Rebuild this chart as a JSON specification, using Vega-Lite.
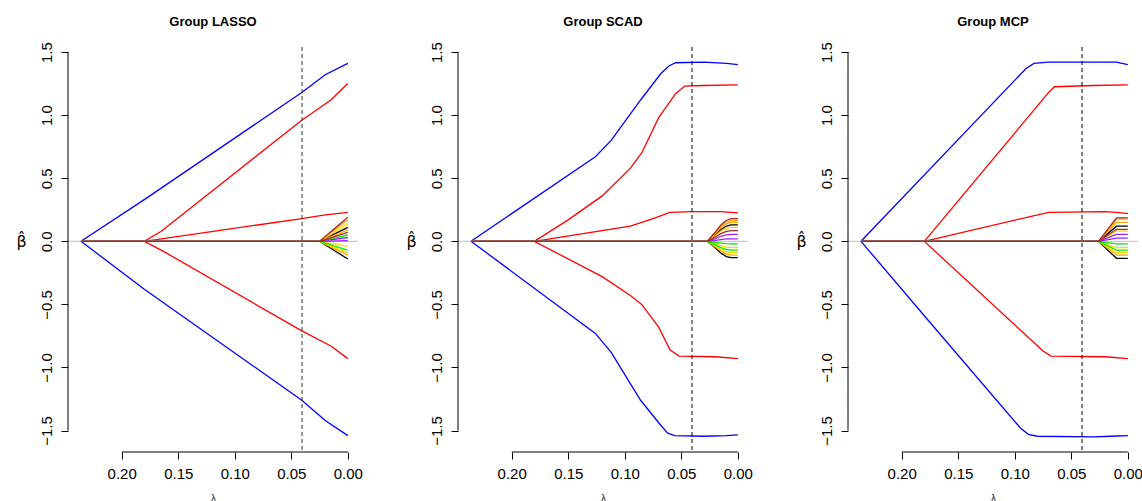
{
"$schema": "https://vega.github.io/schema/vega-lite/v6.json",
"autosize": {"type": "pad"},
"padding": {"left": 15, "top": 15, "right": 0, "bottom": 0},
"background": "white",
"spacing": 100,
"bounds": "flush",
"config": {
  "view": {"stroke": null},
  "axis": {"grid": false, "domain": false, "tickColor": "black", "labelColor": "black", "labelFont": "Liberation Sans", "labelFontSize": 15, "tickSize": 7, "tickWidth": 1, "titleFont": "Liberation Sans", "titleFontWeight": "normal", "titleColor": "black", "labelOverlap": false, "labelFlush": false},
  "title": {"font": "Liberation Sans", "fontSize": 13, "fontWeight": "bold", "color": "black", "frame": "group", "baseline": "alphabetic", "offset": 13, "anchor": "middle"}
},
"datasets": {
"paths": [
{"m":"LASSO","v":"B1","g":"blue","l":0.236,"b":0},{"m":"LASSO","v":"B1","g":"blue","l":0.18,"b":0.33},{"m":"LASSO","v":"B1","g":"blue","l":0.0407,"b":1.18},{"m":"LASSO","v":"B1","g":"blue","l":0.02,"b":1.32},{"m":"LASSO","v":"B1","g":"blue","l":0,"b":1.41},
{"m":"LASSO","v":"B2","g":"blue","l":0.236,"b":0},{"m":"LASSO","v":"B2","g":"blue","l":0.18,"b":-0.38},{"m":"LASSO","v":"B2","g":"blue","l":0.0407,"b":-1.26},{"m":"LASSO","v":"B2","g":"blue","l":0.02,"b":-1.42},{"m":"LASSO","v":"B2","g":"blue","l":0,"b":-1.54},
{"m":"LASSO","v":"R1","g":"red","l":0.236,"b":0},{"m":"LASSO","v":"R1","g":"red","l":0.18,"b":0},{"m":"LASSO","v":"R1","g":"red","l":0.165,"b":0.08},{"m":"LASSO","v":"R1","g":"red","l":0.0407,"b":0.96},{"m":"LASSO","v":"R1","g":"red","l":0.015,"b":1.12},{"m":"LASSO","v":"R1","g":"red","l":0,"b":1.25},
{"m":"LASSO","v":"R2","g":"red","l":0.236,"b":0},{"m":"LASSO","v":"R2","g":"red","l":0.18,"b":0},{"m":"LASSO","v":"R2","g":"red","l":0.0407,"b":0.18},{"m":"LASSO","v":"R2","g":"red","l":0.02,"b":0.21},{"m":"LASSO","v":"R2","g":"red","l":0,"b":0.23},
{"m":"LASSO","v":"R3","g":"red","l":0.236,"b":0},{"m":"LASSO","v":"R3","g":"red","l":0.18,"b":0},{"m":"LASSO","v":"R3","g":"red","l":0.165,"b":-0.07},{"m":"LASSO","v":"R3","g":"red","l":0.0407,"b":-0.71},{"m":"LASSO","v":"R3","g":"red","l":0.015,"b":-0.83},{"m":"LASSO","v":"R3","g":"red","l":0,"b":-0.93},
{"m":"LASSO","v":"K1","g":"black","l":0.236,"b":0},{"m":"LASSO","v":"K1","g":"black","l":0.025,"b":0},{"m":"LASSO","v":"K1","g":"black","l":0,"b":0.11},
{"m":"LASSO","v":"K2","g":"black","l":0.236,"b":0},{"m":"LASSO","v":"K2","g":"black","l":0.025,"b":0},{"m":"LASSO","v":"K2","g":"black","l":0,"b":-0.14},
{"m":"LASSO","v":"O1","g":"orange","l":0.236,"b":0},{"m":"LASSO","v":"O1","g":"orange","l":0.025,"b":0},{"m":"LASSO","v":"O1","g":"orange","l":0,"b":0.17},
{"m":"LASSO","v":"O2","g":"orange","l":0.236,"b":0},{"m":"LASSO","v":"O2","g":"orange","l":0.025,"b":0},{"m":"LASSO","v":"O2","g":"orange","l":0,"b":0.09},
{"m":"LASSO","v":"O3","g":"orange","l":0.236,"b":0},{"m":"LASSO","v":"O3","g":"orange","l":0.025,"b":0},{"m":"LASSO","v":"O3","g":"orange","l":0,"b":-0.11},
{"m":"LASSO","v":"Y1","g":"gold","l":0.236,"b":0},{"m":"LASSO","v":"Y1","g":"gold","l":0.025,"b":0},{"m":"LASSO","v":"Y1","g":"gold","l":0,"b":0.14},
{"m":"LASSO","v":"Y2","g":"gold","l":0.236,"b":0},{"m":"LASSO","v":"Y2","g":"gold","l":0.025,"b":0},{"m":"LASSO","v":"Y2","g":"gold","l":0,"b":-0.04},
{"m":"LASSO","v":"Y3","g":"gold","l":0.236,"b":0},{"m":"LASSO","v":"Y3","g":"gold","l":0.025,"b":0},{"m":"LASSO","v":"Y3","g":"gold","l":0,"b":-0.09},
{"m":"LASSO","v":"G1","g":"green","l":0.236,"b":0},{"m":"LASSO","v":"G1","g":"green","l":0.025,"b":0},{"m":"LASSO","v":"G1","g":"green","l":0,"b":0.05},
{"m":"LASSO","v":"G2","g":"green","l":0.236,"b":0},{"m":"LASSO","v":"G2","g":"green","l":0.025,"b":0},{"m":"LASSO","v":"G2","g":"green","l":0,"b":-0.07},
{"m":"LASSO","v":"P1","g":"purple","l":0.236,"b":0},{"m":"LASSO","v":"P1","g":"purple","l":0.025,"b":0},{"m":"LASSO","v":"P1","g":"purple","l":0,"b":0.03},
{"m":"LASSO","v":"P2","g":"purple","l":0.236,"b":0},{"m":"LASSO","v":"P2","g":"purple","l":0.025,"b":0},{"m":"LASSO","v":"P2","g":"purple","l":0,"b":0.005},
{"m":"LASSO","v":"N1","g":"brown","l":0.236,"b":0},{"m":"LASSO","v":"N1","g":"brown","l":0.025,"b":0},{"m":"LASSO","v":"N1","g":"brown","l":0,"b":0.19},
{"m":"LASSO","v":"N2","g":"brown","l":0.236,"b":0},{"m":"LASSO","v":"N2","g":"brown","l":0.025,"b":0},{"m":"LASSO","v":"N2","g":"brown","l":0,"b":0.07},

{"m":"SCAD","v":"B1","g":"blue","l":0.236,"b":0},{"m":"SCAD","v":"B1","g":"blue","l":0.126,"b":0.67},{"m":"SCAD","v":"B1","g":"blue","l":0.112,"b":0.8},{"m":"SCAD","v":"B1","g":"blue","l":0.086,"b":1.12},{"m":"SCAD","v":"B1","g":"blue","l":0.068,"b":1.33},{"m":"SCAD","v":"B1","g":"blue","l":0.061,"b":1.39},{"m":"SCAD","v":"B1","g":"blue","l":0.055,"b":1.415},{"m":"SCAD","v":"B1","g":"blue","l":0.03,"b":1.42},{"m":"SCAD","v":"B1","g":"blue","l":0.01,"b":1.41},{"m":"SCAD","v":"B1","g":"blue","l":0,"b":1.4},
{"m":"SCAD","v":"B2","g":"blue","l":0.236,"b":0},{"m":"SCAD","v":"B2","g":"blue","l":0.126,"b":-0.73},{"m":"SCAD","v":"B2","g":"blue","l":0.112,"b":-0.88},{"m":"SCAD","v":"B2","g":"blue","l":0.086,"b":-1.26},{"m":"SCAD","v":"B2","g":"blue","l":0.068,"b":-1.46},{"m":"SCAD","v":"B2","g":"blue","l":0.062,"b":-1.52},{"m":"SCAD","v":"B2","g":"blue","l":0.056,"b":-1.54},{"m":"SCAD","v":"B2","g":"blue","l":0.03,"b":-1.545},{"m":"SCAD","v":"B2","g":"blue","l":0.01,"b":-1.54},{"m":"SCAD","v":"B2","g":"blue","l":0,"b":-1.535},
{"m":"SCAD","v":"R1","g":"red","l":0.236,"b":0},{"m":"SCAD","v":"R1","g":"red","l":0.18,"b":0},{"m":"SCAD","v":"R1","g":"red","l":0.15,"b":0.17},{"m":"SCAD","v":"R1","g":"red","l":0.12,"b":0.36},{"m":"SCAD","v":"R1","g":"red","l":0.095,"b":0.58},{"m":"SCAD","v":"R1","g":"red","l":0.085,"b":0.7},{"m":"SCAD","v":"R1","g":"red","l":0.07,"b":0.98},{"m":"SCAD","v":"R1","g":"red","l":0.055,"b":1.17},{"m":"SCAD","v":"R1","g":"red","l":0.047,"b":1.23},{"m":"SCAD","v":"R1","g":"red","l":0.03,"b":1.235},{"m":"SCAD","v":"R1","g":"red","l":0,"b":1.24},
{"m":"SCAD","v":"R2","g":"red","l":0.236,"b":0},{"m":"SCAD","v":"R2","g":"red","l":0.18,"b":0},{"m":"SCAD","v":"R2","g":"red","l":0.095,"b":0.12},{"m":"SCAD","v":"R2","g":"red","l":0.075,"b":0.18},{"m":"SCAD","v":"R2","g":"red","l":0.06,"b":0.23},{"m":"SCAD","v":"R2","g":"red","l":0.04,"b":0.235},{"m":"SCAD","v":"R2","g":"red","l":0.015,"b":0.235},{"m":"SCAD","v":"R2","g":"red","l":0,"b":0.225},
{"m":"SCAD","v":"R3","g":"red","l":0.236,"b":0},{"m":"SCAD","v":"R3","g":"red","l":0.18,"b":0},{"m":"SCAD","v":"R3","g":"red","l":0.12,"b":-0.28},{"m":"SCAD","v":"R3","g":"red","l":0.095,"b":-0.43},{"m":"SCAD","v":"R3","g":"red","l":0.085,"b":-0.5},{"m":"SCAD","v":"R3","g":"red","l":0.07,"b":-0.68},{"m":"SCAD","v":"R3","g":"red","l":0.06,"b":-0.86},{"m":"SCAD","v":"R3","g":"red","l":0.052,"b":-0.91},{"m":"SCAD","v":"R3","g":"red","l":0.02,"b":-0.915},{"m":"SCAD","v":"R3","g":"red","l":0,"b":-0.93},
{"m":"SCAD","v":"K1","g":"black","l":0.236,"b":0},{"m":"SCAD","v":"K1","g":"black","l":0.027,"b":0},{"m":"SCAD","v":"K1","g":"black","l":0.02,"b":0.052},{"m":"SCAD","v":"K1","g":"black","l":0.015,"b":0.094},{"m":"SCAD","v":"K1","g":"black","l":0.01,"b":0.121},{"m":"SCAD","v":"K1","g":"black","l":0.006,"b":0.13},{"m":"SCAD","v":"K1","g":"black","l":0,"b":0.13},
{"m":"SCAD","v":"K2","g":"black","l":0.236,"b":0},{"m":"SCAD","v":"K2","g":"black","l":0.027,"b":0},{"m":"SCAD","v":"K2","g":"black","l":0.02,"b":-0.052},{"m":"SCAD","v":"K2","g":"black","l":0.015,"b":-0.094},{"m":"SCAD","v":"K2","g":"black","l":0.01,"b":-0.121},{"m":"SCAD","v":"K2","g":"black","l":0.006,"b":-0.13},{"m":"SCAD","v":"K2","g":"black","l":0,"b":-0.13},
{"m":"SCAD","v":"O1","g":"orange","l":0.236,"b":0},{"m":"SCAD","v":"O1","g":"orange","l":0.027,"b":0},{"m":"SCAD","v":"O1","g":"orange","l":0.02,"b":0.066},{"m":"SCAD","v":"O1","g":"orange","l":0.015,"b":0.119},{"m":"SCAD","v":"O1","g":"orange","l":0.01,"b":0.153},{"m":"SCAD","v":"O1","g":"orange","l":0.006,"b":0.165},{"m":"SCAD","v":"O1","g":"orange","l":0,"b":0.165},
{"m":"SCAD","v":"O2","g":"orange","l":0.236,"b":0},{"m":"SCAD","v":"O2","g":"orange","l":0.027,"b":0},{"m":"SCAD","v":"O2","g":"orange","l":0.02,"b":0.06},{"m":"SCAD","v":"O2","g":"orange","l":0.015,"b":0.108},{"m":"SCAD","v":"O2","g":"orange","l":0.01,"b":0.14},{"m":"SCAD","v":"O2","g":"orange","l":0.006,"b":0.15},{"m":"SCAD","v":"O2","g":"orange","l":0,"b":0.15},
{"m":"SCAD","v":"O3","g":"orange","l":0.236,"b":0},{"m":"SCAD","v":"O3","g":"orange","l":0.027,"b":0},{"m":"SCAD","v":"O3","g":"orange","l":0.02,"b":-0.044},{"m":"SCAD","v":"O3","g":"orange","l":0.015,"b":-0.079},{"m":"SCAD","v":"O3","g":"orange","l":0.01,"b":-0.102},{"m":"SCAD","v":"O3","g":"orange","l":0.006,"b":-0.11},{"m":"SCAD","v":"O3","g":"orange","l":0,"b":-0.11},
{"m":"SCAD","v":"Y1","g":"gold","l":0.236,"b":0},{"m":"SCAD","v":"Y1","g":"gold","l":0.027,"b":0},{"m":"SCAD","v":"Y1","g":"gold","l":0.02,"b":0.044},{"m":"SCAD","v":"Y1","g":"gold","l":0.015,"b":0.079},{"m":"SCAD","v":"Y1","g":"gold","l":0.01,"b":0.102},{"m":"SCAD","v":"Y1","g":"gold","l":0.006,"b":0.11},{"m":"SCAD","v":"Y1","g":"gold","l":0,"b":0.11},
{"m":"SCAD","v":"Y2","g":"gold","l":0.236,"b":0},{"m":"SCAD","v":"Y2","g":"gold","l":0.027,"b":0},{"m":"SCAD","v":"Y2","g":"gold","l":0.02,"b":-0.02},{"m":"SCAD","v":"Y2","g":"gold","l":0.015,"b":-0.036},{"m":"SCAD","v":"Y2","g":"gold","l":0.01,"b":-0.047},{"m":"SCAD","v":"Y2","g":"gold","l":0.006,"b":-0.05},{"m":"SCAD","v":"Y2","g":"gold","l":0,"b":-0.05},
{"m":"SCAD","v":"Y3","g":"gold","l":0.236,"b":0},{"m":"SCAD","v":"Y3","g":"gold","l":0.027,"b":0},{"m":"SCAD","v":"Y3","g":"gold","l":0.02,"b":-0.036},{"m":"SCAD","v":"Y3","g":"gold","l":0.015,"b":-0.065},{"m":"SCAD","v":"Y3","g":"gold","l":0.01,"b":-0.084},{"m":"SCAD","v":"Y3","g":"gold","l":0.006,"b":-0.09},{"m":"SCAD","v":"Y3","g":"gold","l":0,"b":-0.09},
{"m":"SCAD","v":"G1","g":"green","l":0.236,"b":0},{"m":"SCAD","v":"G1","g":"green","l":0.027,"b":0},{"m":"SCAD","v":"G1","g":"green","l":0.02,"b":-0.008},{"m":"SCAD","v":"G1","g":"green","l":0.015,"b":-0.014},{"m":"SCAD","v":"G1","g":"green","l":0.01,"b":-0.019},{"m":"SCAD","v":"G1","g":"green","l":0.006,"b":-0.02},{"m":"SCAD","v":"G1","g":"green","l":0,"b":-0.02},
{"m":"SCAD","v":"G2","g":"green","l":0.236,"b":0},{"m":"SCAD","v":"G2","g":"green","l":0.027,"b":0},{"m":"SCAD","v":"G2","g":"green","l":0.02,"b":-0.028},{"m":"SCAD","v":"G2","g":"green","l":0.015,"b":-0.05},{"m":"SCAD","v":"G2","g":"green","l":0.01,"b":-0.065},{"m":"SCAD","v":"G2","g":"green","l":0.006,"b":-0.07},{"m":"SCAD","v":"G2","g":"green","l":0,"b":-0.07},
{"m":"SCAD","v":"P1","g":"purple","l":0.236,"b":0},{"m":"SCAD","v":"P1","g":"purple","l":0.027,"b":0},{"m":"SCAD","v":"P1","g":"purple","l":0.02,"b":0.022},{"m":"SCAD","v":"P1","g":"purple","l":0.015,"b":0.04},{"m":"SCAD","v":"P1","g":"purple","l":0.01,"b":0.051},{"m":"SCAD","v":"P1","g":"purple","l":0.006,"b":0.055},{"m":"SCAD","v":"P1","g":"purple","l":0,"b":0.055},
{"m":"SCAD","v":"P2","g":"purple","l":0.236,"b":0},{"m":"SCAD","v":"P2","g":"purple","l":0.027,"b":0},{"m":"SCAD","v":"P2","g":"purple","l":0.02,"b":0.008},{"m":"SCAD","v":"P2","g":"purple","l":0.015,"b":0.014},{"m":"SCAD","v":"P2","g":"purple","l":0.01,"b":0.019},{"m":"SCAD","v":"P2","g":"purple","l":0.006,"b":0.02},{"m":"SCAD","v":"P2","g":"purple","l":0,"b":0.02},
{"m":"SCAD","v":"N1","g":"brown","l":0.236,"b":0},{"m":"SCAD","v":"N1","g":"brown","l":0.027,"b":0},{"m":"SCAD","v":"N1","g":"brown","l":0.02,"b":0.072},{"m":"SCAD","v":"N1","g":"brown","l":0.015,"b":0.13},{"m":"SCAD","v":"N1","g":"brown","l":0.01,"b":0.167},{"m":"SCAD","v":"N1","g":"brown","l":0.006,"b":0.18},{"m":"SCAD","v":"N1","g":"brown","l":0,"b":0.18},
{"m":"SCAD","v":"N2","g":"brown","l":0.236,"b":0},{"m":"SCAD","v":"N2","g":"brown","l":0.027,"b":0},{"m":"SCAD","v":"N2","g":"brown","l":0.02,"b":0.034},{"m":"SCAD","v":"N2","g":"brown","l":0.015,"b":0.061},{"m":"SCAD","v":"N2","g":"brown","l":0.01,"b":0.079},{"m":"SCAD","v":"N2","g":"brown","l":0.006,"b":0.085},{"m":"SCAD","v":"N2","g":"brown","l":0,"b":0.085},

{"m":"MCP","v":"B1","g":"blue","l":0.236,"b":0},{"m":"MCP","v":"B1","g":"blue","l":0.09,"b":1.37},{"m":"MCP","v":"B1","g":"blue","l":0.083,"b":1.41},{"m":"MCP","v":"B1","g":"blue","l":0.07,"b":1.42},{"m":"MCP","v":"B1","g":"blue","l":0.03,"b":1.42},{"m":"MCP","v":"B1","g":"blue","l":0.01,"b":1.42},{"m":"MCP","v":"B1","g":"blue","l":0,"b":1.4},
{"m":"MCP","v":"B2","g":"blue","l":0.236,"b":0},{"m":"MCP","v":"B2","g":"blue","l":0.18,"b":-0.59},{"m":"MCP","v":"B2","g":"blue","l":0.095,"b":-1.48},{"m":"MCP","v":"B2","g":"blue","l":0.088,"b":-1.53},{"m":"MCP","v":"B2","g":"blue","l":0.08,"b":-1.545},{"m":"MCP","v":"B2","g":"blue","l":0.03,"b":-1.55},{"m":"MCP","v":"B2","g":"blue","l":0.015,"b":-1.545},{"m":"MCP","v":"B2","g":"blue","l":0,"b":-1.54},
{"m":"MCP","v":"R1","g":"red","l":0.236,"b":0},{"m":"MCP","v":"R1","g":"red","l":0.18,"b":0},{"m":"MCP","v":"R1","g":"red","l":0.07,"b":1.18},{"m":"MCP","v":"R1","g":"red","l":0.065,"b":1.225},{"m":"MCP","v":"R1","g":"red","l":0.03,"b":1.235},{"m":"MCP","v":"R1","g":"red","l":0,"b":1.24},
{"m":"MCP","v":"R2","g":"red","l":0.236,"b":0},{"m":"MCP","v":"R2","g":"red","l":0.18,"b":0},{"m":"MCP","v":"R2","g":"red","l":0.07,"b":0.23},{"m":"MCP","v":"R2","g":"red","l":0.02,"b":0.235},{"m":"MCP","v":"R2","g":"red","l":0.01,"b":0.23},{"m":"MCP","v":"R2","g":"red","l":0,"b":0.22},
{"m":"MCP","v":"R3","g":"red","l":0.236,"b":0},{"m":"MCP","v":"R3","g":"red","l":0.18,"b":0},{"m":"MCP","v":"R3","g":"red","l":0.075,"b":-0.87},{"m":"MCP","v":"R3","g":"red","l":0.068,"b":-0.91},{"m":"MCP","v":"R3","g":"red","l":0.02,"b":-0.915},{"m":"MCP","v":"R3","g":"red","l":0,"b":-0.93},
{"m":"MCP","v":"K1","g":"black","l":0.236,"b":0},{"m":"MCP","v":"K1","g":"black","l":0.026,"b":0},{"m":"MCP","v":"K1","g":"black","l":0.01,"b":0.12},{"m":"MCP","v":"K1","g":"black","l":0,"b":0.12},
{"m":"MCP","v":"K2","g":"black","l":0.236,"b":0},{"m":"MCP","v":"K2","g":"black","l":0.026,"b":0},{"m":"MCP","v":"K2","g":"black","l":0.01,"b":-0.135},{"m":"MCP","v":"K2","g":"black","l":0,"b":-0.135},
{"m":"MCP","v":"O1","g":"orange","l":0.236,"b":0},{"m":"MCP","v":"O1","g":"orange","l":0.026,"b":0},{"m":"MCP","v":"O1","g":"orange","l":0.01,"b":0.175},{"m":"MCP","v":"O1","g":"orange","l":0,"b":0.175},
{"m":"MCP","v":"O2","g":"orange","l":0.236,"b":0},{"m":"MCP","v":"O2","g":"orange","l":0.026,"b":0},{"m":"MCP","v":"O2","g":"orange","l":0.01,"b":0.15},{"m":"MCP","v":"O2","g":"orange","l":0,"b":0.15},
{"m":"MCP","v":"O3","g":"orange","l":0.236,"b":0},{"m":"MCP","v":"O3","g":"orange","l":0.026,"b":0},{"m":"MCP","v":"O3","g":"orange","l":0.01,"b":-0.11},{"m":"MCP","v":"O3","g":"orange","l":0,"b":-0.11},
{"m":"MCP","v":"Y1","g":"gold","l":0.236,"b":0},{"m":"MCP","v":"Y1","g":"gold","l":0.026,"b":0},{"m":"MCP","v":"Y1","g":"gold","l":0.01,"b":0.08},{"m":"MCP","v":"Y1","g":"gold","l":0,"b":0.08},
{"m":"MCP","v":"Y2","g":"gold","l":0.236,"b":0},{"m":"MCP","v":"Y2","g":"gold","l":0.026,"b":0},{"m":"MCP","v":"Y2","g":"gold","l":0.01,"b":-0.05},{"m":"MCP","v":"Y2","g":"gold","l":0,"b":-0.05},
{"m":"MCP","v":"Y3","g":"gold","l":0.236,"b":0},{"m":"MCP","v":"Y3","g":"gold","l":0.026,"b":0},{"m":"MCP","v":"Y3","g":"gold","l":0.01,"b":-0.09},{"m":"MCP","v":"Y3","g":"gold","l":0,"b":-0.09},
{"m":"MCP","v":"G1","g":"green","l":0.236,"b":0},{"m":"MCP","v":"G1","g":"green","l":0.026,"b":0},{"m":"MCP","v":"G1","g":"green","l":0.01,"b":-0.02},{"m":"MCP","v":"G1","g":"green","l":0,"b":-0.02},
{"m":"MCP","v":"G2","g":"green","l":0.236,"b":0},{"m":"MCP","v":"G2","g":"green","l":0.026,"b":0},{"m":"MCP","v":"G2","g":"green","l":0.01,"b":-0.07},{"m":"MCP","v":"G2","g":"green","l":0,"b":-0.07},
{"m":"MCP","v":"P1","g":"purple","l":0.236,"b":0},{"m":"MCP","v":"P1","g":"purple","l":0.026,"b":0},{"m":"MCP","v":"P1","g":"purple","l":0.01,"b":0.055},{"m":"MCP","v":"P1","g":"purple","l":0,"b":0.055},
{"m":"MCP","v":"P2","g":"purple","l":0.236,"b":0},{"m":"MCP","v":"P2","g":"purple","l":0.026,"b":0},{"m":"MCP","v":"P2","g":"purple","l":0.01,"b":0.025},{"m":"MCP","v":"P2","g":"purple","l":0,"b":0.025},
{"m":"MCP","v":"N1","g":"brown","l":0.236,"b":0},{"m":"MCP","v":"N1","g":"brown","l":0.026,"b":0},{"m":"MCP","v":"N1","g":"brown","l":0.01,"b":0.185},{"m":"MCP","v":"N1","g":"brown","l":0,"b":0.185},
{"m":"MCP","v":"N2","g":"brown","l":0.236,"b":0},{"m":"MCP","v":"N2","g":"brown","l":0.026,"b":0},{"m":"MCP","v":"N2","g":"brown","l":0.01,"b":0.095},{"m":"MCP","v":"N2","g":"brown","l":0,"b":0.095}
],
"cut": [{"m": "LASSO", "l": 0.0405}, {"m": "SCAD", "l": 0.0405}, {"m": "MCP", "l": 0.0405}]
},
"hconcat": [
{
  "title": {"text": "Group LASSO"},
  "width": 290, "height": 405,
  "layer": [
    {"data": {"values": [{}]}, "mark": {"type": "rule", "color": "#BEBEBE", "strokeWidth": 1},
     "encoding": {"y": {"datum": 0, "type": "quantitative", "scale": {"domain": [-1.67, 1.54], "nice": false, "zero": false}}}},
    {"data": {"values": [{}]}, "mark": {"type": "rule", "color": "black", "strokeWidth": 1},
     "encoding": {"x": {"datum": 0.2, "type": "quantitative"}, "x2": {"datum": 0}, "y": {"datum": -1.67, "type": "quantitative"}}},
    {"data": {"values": [{}]}, "mark": {"type": "rule", "color": "black", "strokeWidth": 1},
     "encoding": {"x": {"datum": 0.2475, "type": "quantitative"}, "y": {"datum": -1.5, "type": "quantitative"}, "y2": {"datum": 1.5}}},
    {"data": {"name": "paths"}, "transform": [{"filter": "datum.m === 'LASSO'"}],
     "mark": {"type": "line", "strokeWidth": 1.3, "clip": true},
     "encoding": {
       "x": {"field": "l", "type": "quantitative", "scale": {"domain": [-0.009, 0.2475], "reverse": true, "nice": false, "zero": false},
             "axis": {"values": [0, 0.05, 0.1, 0.15, 0.2], "format": ".2f", "labelPadding": 7, "title": "λ", "titleFontSize": 9, "titlePadding": 12}},
       "y": {"field": "b", "type": "quantitative", "scale": {"domain": [-1.67, 1.54], "nice": false, "zero": false},
             "axis": {"values": [-1.5, -1, -0.5, 0, 0.5, 1, 1.5], "format": ".1f", "labelAngle": 270, "labelAlign": "center", "labelBaseline": "bottom", "labelPadding": 7, "title": "β̂", "titleFont": "DejaVu Sans", "titleAngle": 0, "titleFontSize": 16, "titleX": -47, "titleY": 194, "titleAlign": "center", "titleBaseline": "middle"}},
       "color": {"field": "g", "type": "nominal", "legend": null, "scale": {"domain": ["blue", "red", "black", "orange", "gold", "green", "purple", "brown"], "range": ["#0000FF", "#FF0000", "#000000", "#FFA500", "#FFD700", "#00EE00", "#A020F0", "#A52A2A"]}},
       "detail": {"field": "v", "type": "nominal"}
     }},
    {"data": {"name": "cut"}, "transform": [{"filter": "datum.m === 'LASSO'"}],
     "mark": {"type": "rule", "color": "#333333", "strokeDash": [4, 3], "strokeWidth": 1},
     "encoding": {"x": {"field": "l", "type": "quantitative", "scale": {"domain": [-0.009, 0.2475], "reverse": true, "nice": false, "zero": false}}}}
  ]
},
{
  "title": {"text": "Group SCAD"},
  "width": 290, "height": 405,
  "layer": [
    {"data": {"values": [{}]}, "mark": {"type": "rule", "color": "#BEBEBE", "strokeWidth": 1},
     "encoding": {"y": {"datum": 0, "type": "quantitative", "scale": {"domain": [-1.67, 1.54], "nice": false, "zero": false}}}},
    {"data": {"values": [{}]}, "mark": {"type": "rule", "color": "black", "strokeWidth": 1},
     "encoding": {"x": {"datum": 0.2, "type": "quantitative"}, "x2": {"datum": 0}, "y": {"datum": -1.67, "type": "quantitative"}}},
    {"data": {"values": [{}]}, "mark": {"type": "rule", "color": "black", "strokeWidth": 1},
     "encoding": {"x": {"datum": 0.2475, "type": "quantitative"}, "y": {"datum": -1.5, "type": "quantitative"}, "y2": {"datum": 1.5}}},
    {"data": {"name": "paths"}, "transform": [{"filter": "datum.m === 'SCAD'"}],
     "mark": {"type": "line", "strokeWidth": 1.3, "clip": true},
     "encoding": {
       "x": {"field": "l", "type": "quantitative", "scale": {"domain": [-0.009, 0.2475], "reverse": true, "nice": false, "zero": false},
             "axis": {"values": [0, 0.05, 0.1, 0.15, 0.2], "format": ".2f", "labelPadding": 7, "title": "λ", "titleFontSize": 9, "titlePadding": 12}},
       "y": {"field": "b", "type": "quantitative", "scale": {"domain": [-1.67, 1.54], "nice": false, "zero": false},
             "axis": {"values": [-1.5, -1, -0.5, 0, 0.5, 1, 1.5], "format": ".1f", "labelAngle": 270, "labelAlign": "center", "labelBaseline": "bottom", "labelPadding": 7, "title": "β̂", "titleFont": "DejaVu Sans", "titleAngle": 0, "titleFontSize": 16, "titleX": -47, "titleY": 194, "titleAlign": "center", "titleBaseline": "middle"}},
       "color": {"field": "g", "type": "nominal", "legend": null, "scale": {"domain": ["blue", "red", "black", "orange", "gold", "green", "purple", "brown"], "range": ["#0000FF", "#FF0000", "#000000", "#FFA500", "#FFD700", "#00EE00", "#A020F0", "#A52A2A"]}},
       "detail": {"field": "v", "type": "nominal"}
     }},
    {"data": {"name": "cut"}, "transform": [{"filter": "datum.m === 'SCAD'"}],
     "mark": {"type": "rule", "color": "#000000", "strokeDash": [4, 3], "strokeWidth": 1},
     "encoding": {"x": {"field": "l", "type": "quantitative", "scale": {"domain": [-0.009, 0.2475], "reverse": true, "nice": false, "zero": false}}}}
  ]
},
{
  "title": {"text": "Group MCP"},
  "width": 290, "height": 405,
  "layer": [
    {"data": {"values": [{}]}, "mark": {"type": "rule", "color": "#BEBEBE", "strokeWidth": 1},
     "encoding": {"y": {"datum": 0, "type": "quantitative", "scale": {"domain": [-1.67, 1.54], "nice": false, "zero": false}}}},
    {"data": {"values": [{}]}, "mark": {"type": "rule", "color": "black", "strokeWidth": 1},
     "encoding": {"x": {"datum": 0.2, "type": "quantitative"}, "x2": {"datum": 0}, "y": {"datum": -1.67, "type": "quantitative"}}},
    {"data": {"values": [{}]}, "mark": {"type": "rule", "color": "black", "strokeWidth": 1},
     "encoding": {"x": {"datum": 0.2475, "type": "quantitative"}, "y": {"datum": -1.5, "type": "quantitative"}, "y2": {"datum": 1.5}}},
    {"data": {"name": "paths"}, "transform": [{"filter": "datum.m === 'MCP'"}],
     "mark": {"type": "line", "strokeWidth": 1.3, "clip": true},
     "encoding": {
       "x": {"field": "l", "type": "quantitative", "scale": {"domain": [-0.009, 0.2475], "reverse": true, "nice": false, "zero": false},
             "axis": {"values": [0, 0.05, 0.1, 0.15, 0.2], "format": ".2f", "labelPadding": 7, "title": "λ", "titleFontSize": 9, "titlePadding": 12}},
       "y": {"field": "b", "type": "quantitative", "scale": {"domain": [-1.67, 1.54], "nice": false, "zero": false},
             "axis": {"values": [-1.5, -1, -0.5, 0, 0.5, 1, 1.5], "format": ".1f", "labelAngle": 270, "labelAlign": "center", "labelBaseline": "bottom", "labelPadding": 7, "title": "β̂", "titleFont": "DejaVu Sans", "titleAngle": 0, "titleFontSize": 16, "titleX": -47, "titleY": 194, "titleAlign": "center", "titleBaseline": "middle"}},
       "color": {"field": "g", "type": "nominal", "legend": null, "scale": {"domain": ["blue", "red", "black", "orange", "gold", "green", "purple", "brown"], "range": ["#0000FF", "#FF0000", "#000000", "#FFA500", "#FFD700", "#00EE00", "#A020F0", "#A52A2A"]}},
       "detail": {"field": "v", "type": "nominal"}
     }},
    {"data": {"name": "cut"}, "transform": [{"filter": "datum.m === 'MCP'"}],
     "mark": {"type": "rule", "color": "#000000", "strokeDash": [4, 3], "strokeWidth": 1},
     "encoding": {"x": {"field": "l", "type": "quantitative", "scale": {"domain": [-0.009, 0.2475], "reverse": true, "nice": false, "zero": false}}}}
  ]
}
]
}
